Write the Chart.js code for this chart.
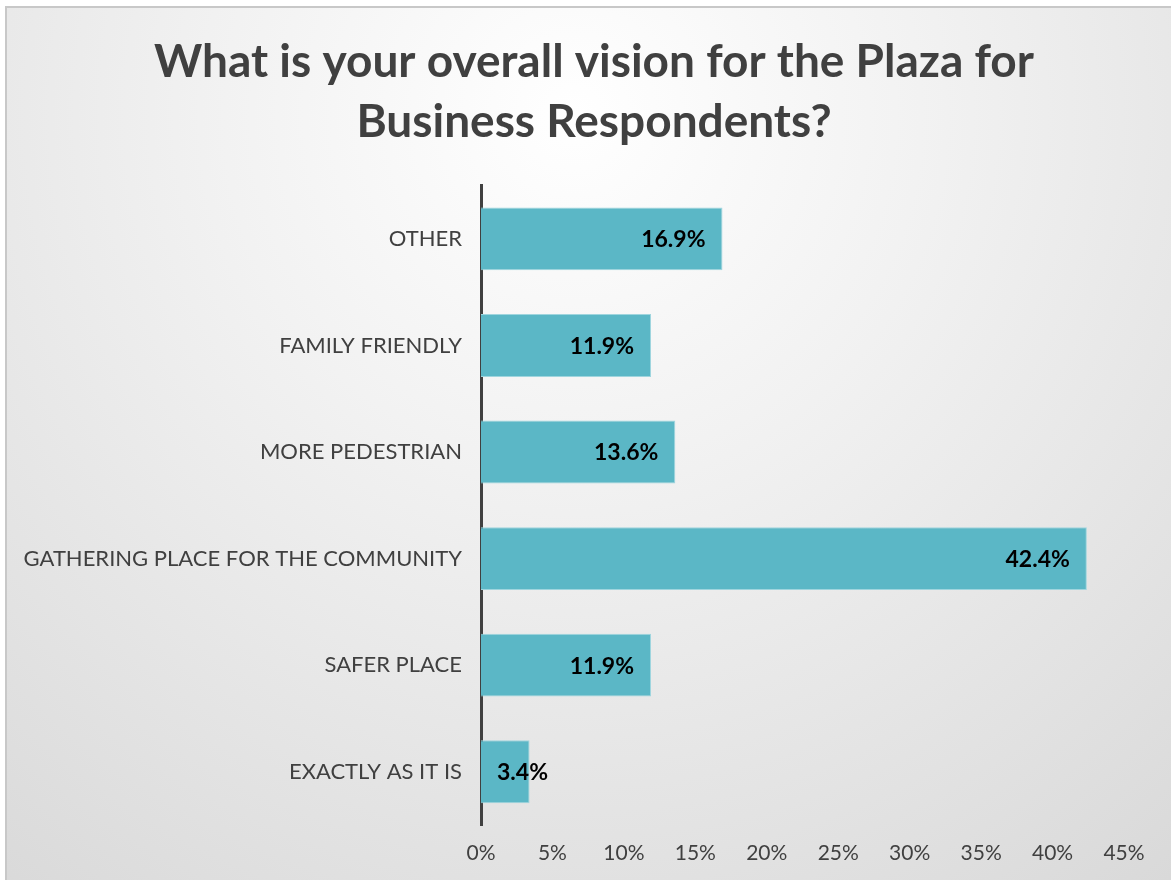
<!DOCTYPE html>
<html>
<head>
<meta charset="utf-8">
<script src="https://cdn.jsdelivr.net/npm/chart.js@4"></script>
<style>
    html, body { margin: 0; padding: 0; width: 1171px; height: 880px; overflow: hidden; background: #fff; }
    #frame {
        position: absolute; left: 5px; top: 6px; width: 1180px; height: 890px;
        border-left: 2px solid #c8c8c8; border-top: 2px solid #c8c8c8;
        background: radial-gradient(circle farthest-corner at 48% 12%, #ffffff 0%, #f2f2f2 35%, #d8d8d8 100%);
    }
    #chart { position: absolute; left: 0; top: 0; }
</style>
</head>
<body>
<div id="frame"></div>
<canvas id="chart" width="1171" height="880"></canvas>
<script>
// Chart data
const categories = ['OTHER', 'FAMILY FRIENDLY', 'MORE PEDESTRIAN', 'GATHERING PLACE FOR THE COMMUNITY', 'SAFER PLACE', 'EXACTLY AS IT IS'];
const values = [16.9, 11.9, 13.6, 42.4, 11.9, 3.4];
const xTicks = [0, 5, 10, 15, 20, 25, 30, 35, 40, 45];
const titleLines = ['What is your overall vision for the Plaza for', 'Business Respondents?'];

const textColor = '#404040';

// Value labels drawn inside the end of each bar
const barLabels = {
    id: 'barLabels',
    afterDatasetsDraw(chart) {
        const ctx = chart.ctx;
        const meta = chart.getDatasetMeta(0);
        ctx.save();
        ctx.font = 'bold 23px Lato';
        ctx.fillStyle = '#000';
        ctx.textBaseline = 'middle';
        ctx.textAlign = 'left';
        meta.data.forEach((bar, i) => {
            const text = values[i].toFixed(1) + '%';
            const w = ctx.measureText(text).width;
            const x = Math.max(bar.base + 16, bar.x - 17 - w);
            ctx.fillText(text, x, bar.y + 1);
        });
        ctx.restore();
    }
};

// The title in the picture is centred a bit right of the canvas box
const shiftTitle = {
    id: 'shiftTitle',
    afterLayout(chart) {
        if (chart.titleBlock) {
            chart.titleBlock.left += 32;
            chart.titleBlock.right += 32;
        }
    }
};

const ctx = document.getElementById('chart').getContext('2d');
new Chart(ctx, {
    type: 'bar',
    data: {
        labels: categories,
        datasets: [{
            data: values,
            backgroundColor: '#5bb7c6',
            borderColor: '#9fd5de',
            borderWidth: 1,
            categoryPercentage: 1,
            barPercentage: 0.59
        }]
    },
    options: {
        indexAxis: 'y',
        responsive: false,
        animation: false,
        devicePixelRatio: 1,
        layout: { padding: { left: 0, right: 47, top: 0, bottom: 0 } },
        plugins: {
            legend: { display: false },
            tooltip: { enabled: false },
            title: {
                display: true,
                text: titleLines,
                color: textColor,
                font: { family: 'Lato', size: 46, weight: 'bold', lineHeight: 1.3 },
                padding: { top: 32, bottom: 34 }
            }
        },
        scales: {
            x: {
                min: 0,
                max: 45,
                afterBuildTicks: (scale) => {
                    scale.ticks = xTicks.map(v => ({ value: v }));
                },
                afterFit: (scale) => { scale.height = 55; },
                grid: { display: false, drawTicks: false },
                border: { display: false },
                ticks: {
                    color: textColor,
                    font: { family: 'Lato', size: 21 },
                    padding: 16,
                    maxRotation: 0,
                    callback: (v) => v + '%'
                }
            },
            y: {
                afterFit: (scale) => { scale.width = 481; },
                grid: { display: false, drawTicks: false },
                border: { display: true, color: '#404040', width: 3 },
                ticks: {
                    color: textColor,
                    font: { family: 'Lato', size: 22 },
                    padding: 19
                }
            }
        }
    },
    plugins: [barLabels, shiftTitle]
});
</script>
</body>
</html>
